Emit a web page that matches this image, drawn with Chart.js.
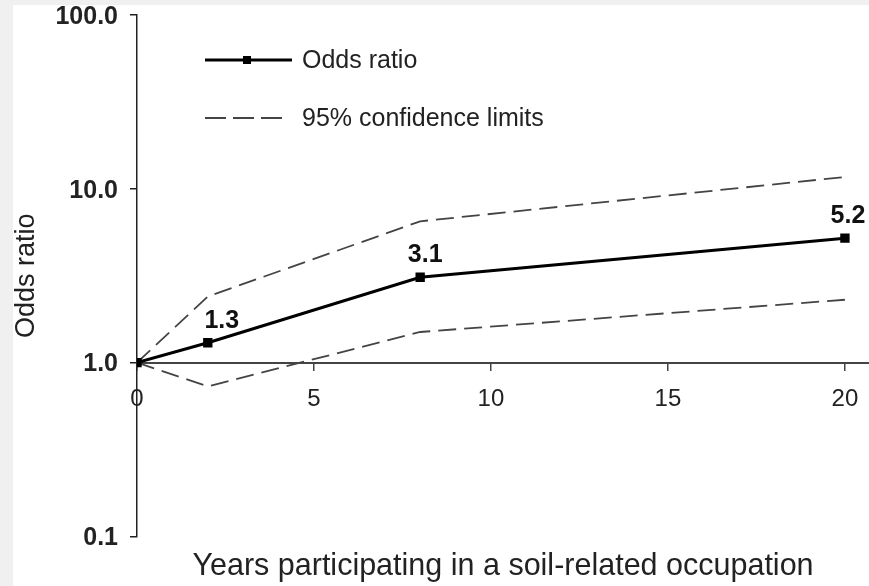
<!DOCTYPE html>
<html>
<head>
<meta charset="utf-8">
<script src="https://cdn.jsdelivr.net/npm/chart.js@4.4.1/dist/chart.umd.min.js"></script>
<style>
  html, body { margin: 0; padding: 0; background: #f0f0f0; }
  #wrap { position: absolute; left: 13px; top: 5px; width: 856px; height: 581px; background: #fff; }
</style>
</head>
<body>
<div id="wrap"><canvas id="oddsChart" width="856" height="581"></canvas></div>
<script>
// values
const years = [0, 2, 8, 20];
const oddsRatio = [1.0, 1.3, 3.1, 5.2];
const upperLimit = [1.0, 2.4, 6.5, 11.7];
const lowerLimit = [1.0, 0.73, 1.5, 2.3];
const pointLabels = ['', '1.3', '3.1', '5.2'];
const xTicks = [0, 5, 10, 15, 20];
const yTicks = [0.1, 1, 10, 100];

const FONT = "'Liberation Sans', Arial, sans-serif";

function toPoints(ys) {
    return years.map((x, i) => ({ x: x, y: ys[i] }));
}

// bold value labels above the odds ratio points
const valueLabels = {
    id: 'valueLabels',
    afterDatasetsDraw(chart) {
        const ctx = chart.ctx;
        const meta = chart.getDatasetMeta(0);
        const shift = [0, 14, 5, 3];
        ctx.save();
        ctx.font = 'bold 25px ' + FONT;
        ctx.fillStyle = '#111';
        ctx.textAlign = 'center';
        ctx.textBaseline = 'alphabetic';
        meta.data.forEach((pt, i) => {
            if (!pointLabels[i]) return;
            ctx.fillText(pointLabels[i], pt.x + shift[i], pt.y - 15);
        });
        ctx.restore();
    }
};

// legend drawn inside the plot, top left
const innerLegend = {
    id: 'innerLegend',
    afterDraw(chart) {
        const ctx = chart.ctx;
        ctx.save();
        // solid line with marker
        ctx.strokeStyle = '#000';
        ctx.lineWidth = 3;
        ctx.beginPath();
        ctx.moveTo(192, 55);
        ctx.lineTo(279, 55);
        ctx.stroke();
        ctx.fillStyle = '#000';
        ctx.fillRect(230, 51, 8, 8);
        // dashed line
        ctx.strokeStyle = '#444';
        ctx.lineWidth = 1.8;
        ctx.setLineDash([21, 7]);
        ctx.beginPath();
        ctx.moveTo(192, 113);
        ctx.lineTo(270, 113);
        ctx.stroke();
        ctx.setLineDash([]);
        ctx.font = '25px ' + FONT;
        ctx.fillStyle = '#222';
        ctx.textBaseline = 'middle';
        ctx.fillText(chart.data.datasets[0].label, 289, 56);
        ctx.fillText('95% confidence limits', 289, 114);
        ctx.restore();
    }
};

const ctx = document.getElementById('oddsChart').getContext('2d');
const chart = new Chart(ctx, {
    type: 'line',
    data: {
        datasets: [
            {
                label: 'Odds ratio',
                data: toPoints(oddsRatio),
                borderColor: '#000',
                backgroundColor: '#000',
                borderWidth: 3,
                pointStyle: 'rect',
                pointRadius: 4.5,
                pointHoverRadius: 4.5,
                tension: 0
            },
            {
                label: '95% upper limit',
                data: toPoints(upperLimit),
                borderColor: '#444',
                borderWidth: 1.8,
                borderDash: [18, 8],
                pointRadius: 0,
                tension: 0
            },
            {
                label: '95% lower limit',
                data: toPoints(lowerLimit),
                borderColor: '#444',
                borderWidth: 1.8,
                borderDash: [18, 8],
                pointRadius: 0,
                tension: 0
            }
        ]
    },
    options: {
        responsive: false,
        animation: false,
        layout: { autoPadding: false, padding: { top: 10, right: 0, bottom: 0, left: 0 } },
        plugins: {
            legend: { display: false },
            tooltip: { enabled: false },
            title: {
                display: true,
                position: 'bottom',
                fullSize: false,
                text: 'Years participating in a soil-related occupation',
                color: '#222',
                font: { family: FONT, size: 30.5, weight: 'normal', lineHeight: 1.2 },
                padding: { top: 11.5, bottom: 1.5 }
            }
        },
        scales: {
            x: {
                type: 'linear',
                min: 0,
                max: 20.68,
                position: { y: 1 },
                afterBuildTicks: (axis) => { axis.ticks = xTicks.map(v => ({ value: v })); },
                afterFit: (axis) => { axis.paddingLeft = 0; axis.paddingRight = 0; },
                grid: { drawOnChartArea: false, tickLength: 7, color: '#444', lineWidth: 1.5 },
                border: { color: '#444', width: 2 },
                ticks: {
                    color: '#222',
                    padding: 15,
                    maxRotation: 0,
                    font: { family: FONT, size: 24 },
                    callback: (v) => String(v)
                }
            },
            y: {
                type: 'logarithmic',
                min: 0.1,
                max: 100,
                afterBuildTicks: (axis) => { axis.ticks = yTicks.map(v => ({ value: v })); },
                afterFit: (axis) => { axis.width = 124; axis.paddingTop = 0; axis.paddingBottom = 0; },
                grid: { drawOnChartArea: false, tickLength: 7, color: '#222', lineWidth: 1.5 },
                border: { color: '#222', width: 1.5 },
                ticks: {
                    color: '#222',
                    padding: 12,
                    labelOffset: 2,
                    font: { family: FONT, size: 25, weight: 'bold' },
                    callback: (v) => Number(v).toFixed(1)
                },
                title: {
                    display: true,
                    text: 'Odds ratio',
                    color: '#222',
                    padding: 0,
                    font: { family: FONT, size: 27, lineHeight: 1 }
                }
            }
        }
    },
    plugins: [valueLabels, innerLegend]
});
</script>
</body>
</html>
